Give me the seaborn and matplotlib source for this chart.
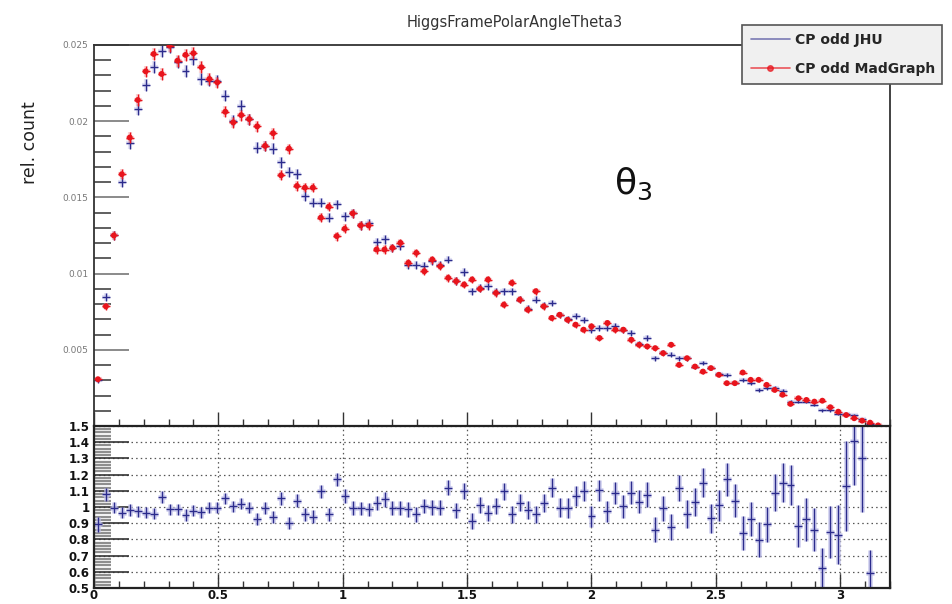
import numpy as np
import matplotlib
matplotlib.use("Agg")
import matplotlib.pyplot as plt
from matplotlib.lines import Line2D
from matplotlib.ticker import MultipleLocator
import seaborn as sns

# ---------------- data ----------------
bin_lo = 0.0
bin_hi = 3.2
n_bins = 100

jhu = [0.0030, 0.00847, 0.0125, 0.0160, 0.01855, 0.0208, 0.02237, 0.02354, 0.02463, 0.02485,
       0.0239, 0.02331, 0.02408, 0.02277, 0.02266, 0.02266, 0.02167, 0.02003, 0.02101, 0.02014,
       0.01827, 0.01838, 0.0182, 0.01729, 0.01667, 0.01652, 0.01509, 0.01465, 0.01465, 0.01367,
       0.01454, 0.01377, 0.01395, 0.01316, 0.01329, 0.01206, 0.01224, 0.01169, 0.0118, 0.01059,
       0.01059, 0.01048, 0.01081, 0.01059, 0.01092, 0.0095, 0.01009, 0.00884, 0.00905, 0.00917,
       0.0088, 0.00884, 0.00884, 0.0083, 0.0077, 0.00829, 0.0079, 0.00807, 0.0073, 0.0070,
       0.00719, 0.00697, 0.00632, 0.00643, 0.00643, 0.00653, 0.00632, 0.0061, 0.0054, 0.00577,
       0.00445, 0.0048, 0.00467, 0.00445, 0.00445, 0.0039, 0.00412, 0.0038, 0.0034, 0.00336,
       0.0028, 0.00303, 0.00281, 0.00237, 0.00248, 0.0025, 0.0023, 0.0016, 0.0016, 0.00158,
       0.0014, 0.00104, 0.00104, 0.00078, 0.00081, 0.00072, 0.00046, 0.00013, 0.00003]

madgraph = [0.00307, 0.00785, 0.0125, 0.01652, 0.01893, 0.02139, 0.02327, 0.02441, 0.0231, 0.02496,
            0.02397, 0.02435, 0.02446, 0.02354, 0.02277, 0.02255, 0.02062, 0.01992, 0.0204, 0.02014,
            0.01966, 0.01838, 0.01921, 0.01645, 0.0182, 0.01575, 0.01564, 0.01564, 0.01367, 0.01439,
            0.01246, 0.01294, 0.01395, 0.01316, 0.01316, 0.01158, 0.01158, 0.01169, 0.01202, 0.01071,
            0.01136, 0.01015, 0.01092, 0.01048, 0.00972, 0.0095, 0.00928, 0.00961, 0.009, 0.00961,
            0.00873, 0.00796, 0.00939, 0.00829, 0.00763, 0.00884, 0.00785, 0.00709, 0.0073, 0.00697,
            0.00665, 0.00632, 0.00653, 0.00577, 0.00676, 0.00632, 0.00632, 0.00566, 0.00533, 0.00522,
            0.00511, 0.00478, 0.00533, 0.00401, 0.00445, 0.0039, 0.00357, 0.0038, 0.00336, 0.00281,
            0.00281, 0.00351, 0.00303, 0.00303, 0.0027, 0.00237, 0.00205, 0.00145, 0.00182, 0.00171,
            0.0016, 0.00166, 0.00123, 0.00094, 0.00072, 0.00051, 0.00035, 0.00022, 0.00004]

count_err = [0.00015, 0.00024, 0.00029, 0.00033, 0.00035, 0.00037, 0.00038, 0.00039, 0.0004, 0.0004,
             0.0004, 0.0004, 0.0004, 0.00039, 0.00038, 0.00038, 0.00037, 0.00036, 0.00036, 0.00036,
             0.00035, 0.00035, 0.00035, 0.00034, 0.00033, 0.00032, 0.00031, 0.00031, 0.0003, 0.0003,
             0.0003, 0.0003, 0.00029, 0.00029, 0.00029, 0.00028, 0.00028, 0.00027, 0.00027, 0.00026,
             0.00026, 0.00026, 0.00026, 0.00026, 0.00025, 0.00025, 0.00025, 0.00024, 0.00024, 0.00024,
             0.00024, 0.00023, 0.00023, 0.00023, 0.00022, 0.00022, 0.00022, 0.00021, 0.00021, 0.00021,
             0.0002, 0.0002, 0.0002, 0.0002, 0.0002, 0.0002, 0.0002, 0.00019, 0.00018, 0.00018,
             0.00017, 0.00017, 0.00017, 0.00016, 0.00016, 0.00015, 0.00015, 0.00015, 0.00014, 0.00014,
             0.00013, 0.00013, 0.00013, 0.00012, 0.00012, 0.00012, 0.00011, 0.0001, 0.0001, 0.0001,
             0.0001, 0.00009, 0.00009, 0.00008, 0.00007, 0.00006, 0.00005, 0.00004, 0.00002]

ratio = [0.892, 1.078, 0.995, 0.964, 0.981, 0.974, 0.964, 0.958, 1.061, 0.985,
         0.985, 0.95, 0.978, 0.968, 0.995, 0.995, 1.053, 1.005, 1.02, 0.995,
         0.923, 0.995, 0.937, 1.053, 0.902, 1.04, 0.956, 0.94, 1.098, 0.954,
         1.17, 1.067, 0.995, 0.991, 0.985, 1.026, 1.047, 0.995, 0.995, 0.985,
         0.954, 1.005, 0.999, 0.995, 1.118, 0.979, 1.098, 0.912, 1.011, 0.964,
         1.005, 1.098, 0.954, 1.026, 0.979, 0.954, 1.026, 1.118, 0.995, 0.995,
         1.067, 1.098, 0.943, 1.102, 0.974, 1.088, 1.005, 1.088, 1.032, 1.077,
         0.861, 0.991, 0.875, 1.118, 0.958, 1.032, 1.15, 0.929, 1.011, 1.17,
         1.04, 0.84, 0.923, 0.799, 0.892, 1.088, 1.15, 1.135, 0.882, 0.923,
         0.861, 0.624, 0.847, 0.83, 1.129, 1.407, 1.30, 0.593]

ratio_err = [0.045, 0.04, 0.035, 0.035, 0.035, 0.035, 0.035, 0.035, 0.035, 0.035,
             0.035, 0.035, 0.035, 0.035, 0.035, 0.035, 0.035, 0.035, 0.035, 0.035,
             0.037, 0.037, 0.037, 0.038, 0.038, 0.04, 0.04, 0.04, 0.04, 0.04,
             0.042, 0.042, 0.042, 0.042, 0.042, 0.044, 0.044, 0.044, 0.044, 0.045,
             0.045, 0.045, 0.046, 0.046, 0.047, 0.047, 0.048, 0.048, 0.05, 0.05,
             0.05, 0.052, 0.052, 0.053, 0.055, 0.055, 0.056, 0.058, 0.058, 0.06,
             0.06, 0.062, 0.064, 0.065, 0.066, 0.068, 0.07, 0.07, 0.072, 0.075,
             0.075, 0.078, 0.08, 0.082, 0.085, 0.088, 0.09, 0.09, 0.095, 0.1,
             0.1, 0.105, 0.105, 0.11, 0.11, 0.115, 0.12, 0.125, 0.13, 0.13,
             0.135, 0.12, 0.16, 0.18, 0.28, 0.27, 0.33, 0.14]

title = "HiggsFramePolarAngleTheta3"
label_jhu = "CP odd JHU"
label_mad = "CP odd MadGraph"
ylabel = "rel. count"
top_yticks = [0.005, 0.01, 0.015, 0.02, 0.025]
top_yticklabels = ["0.005", "0.01", "0.015", "0.02", "0.025"]
ratio_yticks = [0.5, 0.6, 0.7, 0.8, 0.9, 1.0, 1.1, 1.2, 1.3, 1.4, 1.5]
ratio_yticklabels = ["0.5", "0.6", "0.7", "0.8", "0.9", "1", "1.1", "1.2", "1.3", "1.4", "1.5"]
xticks = [0, 0.5, 1, 1.5, 2, 2.5, 3]
xticklabels = ["0", "0.5", "1", "1.5", "2", "2.5", "3"]

# ---------------- style ----------------
sns.set_style("white")
plt.rcParams["font.family"] = ["DejaVu Sans"]

BLUE = "#2b2b8c"
BLUE_LIGHT = "#c4c4ec"
RED = "#e8141c"
RED_LIGHT = "#f4a0a4"

edges = np.linspace(bin_lo, bin_hi, n_bins + 1)
centers_all = 0.5 * (edges[:-1] + edges[1:])
half_w = 0.5 * (edges[1] - edges[0])

x_top = centers_all[:len(jhu)]
x_rat = centers_all[:len(ratio)]

fig = plt.figure(figsize=(9.53, 6.04), dpi=100)
ax1 = fig.add_axes([0.0986, 0.2947, 0.8353, 0.6308])
ax2 = fig.add_axes([0.0986, 0.0265, 0.8353, 0.2682])

# ---------------- top panel ----------------
ax1.errorbar(x_top, jhu, yerr=count_err, xerr=half_w, fmt="none",
             ecolor=BLUE_LIGHT, elinewidth=3.0, capsize=0, zorder=1, alpha=0.45)
ax1.errorbar(x_top, madgraph, yerr=count_err, xerr=half_w, fmt="none",
             ecolor=RED_LIGHT, elinewidth=3.0, capsize=0, zorder=1, alpha=0.45)
ax1.errorbar(x_top, jhu, yerr=count_err, xerr=half_w, fmt="none",
             ecolor=BLUE, elinewidth=1.0, capsize=0, zorder=2)
ax1.errorbar(x_top, madgraph, yerr=count_err, xerr=half_w, fmt="none",
             ecolor=RED, elinewidth=1.0, capsize=0, zorder=3)
sns.scatterplot(x=x_top, y=madgraph, color=RED, s=18, edgecolor="none",
                ax=ax1, zorder=4, legend=False)

ax1.set_xlim(bin_lo, bin_hi)
ax1.set_ylim(0, 0.025)
ax1.set_yticks(top_yticks)
ax1.set_yticklabels(top_yticklabels)
ax1.yaxis.set_minor_locator(MultipleLocator(0.001))
ax1.set_xticks(xticks)
ax1.set_xticklabels([])
ax1.xaxis.set_minor_locator(MultipleLocator(0.1))
ax1.tick_params(which="both", left=True, bottom=True, right=False, top=False)
ax1.tick_params(axis="y", which="major", direction="in", length=25, width=1.2,
                color="#777777", labelsize=6.5, labelcolor="#777777", pad=4)
ax1.tick_params(axis="y", which="minor", direction="in", length=12, width=1.2,
                color="#444444")
ax1.tick_params(axis="x", which="major", direction="in", length=10, width=1.0,
                color="#333333")
ax1.tick_params(axis="x", which="minor", direction="in", length=5, width=1.0,
                color="#333333")
for s in ax1.spines.values():
    s.set_color("#333333")
    s.set_linewidth(1.3)
ax1.set_xlabel("")
ax1.set_ylabel("")

ax1.text(0.677, 0.635, r"$\mathregular{\theta_3}$", transform=ax1.transAxes,
         fontsize=26, color="#111111", ha="center", va="center")

# ---------------- ratio panel ----------------
ax2.errorbar(x_rat, ratio, yerr=ratio_err, xerr=half_w, fmt="none",
             ecolor=BLUE_LIGHT, elinewidth=3.5, capsize=0, zorder=1, alpha=0.7)
ax2.errorbar(x_rat, ratio, yerr=ratio_err, xerr=half_w, fmt="none",
             ecolor=BLUE, elinewidth=1.0, capsize=0, zorder=2)

ax2.set_xlim(bin_lo, bin_hi)
ax2.set_ylim(0.5, 1.5)
ax2.set_yticks(ratio_yticks)
ax2.set_yticklabels(ratio_yticklabels)
ax2.yaxis.set_minor_locator(MultipleLocator(0.02))
ax2.set_xticks(xticks)
ax2.set_xticklabels(xticklabels)
ax2.xaxis.set_minor_locator(MultipleLocator(0.1))
ax2.grid(True, which="major", linestyle=(0, (1.2, 2.5)), color="#555555", linewidth=0.9)
ax2.set_axisbelow(True)
ax2.tick_params(which="both", left=True, bottom=True, right=False, top=False)
ax2.tick_params(axis="y", which="major", direction="in", length=25, width=1.2,
                color="#333333", labelsize=8.5, labelcolor="#111111", pad=3)
ax2.tick_params(axis="y", which="minor", direction="in", length=12, width=1.6,
                color="#8f8f8f")
ax2.tick_params(axis="x", which="major", direction="in", length=10, width=1.0,
                color="#333333", labelsize=8.5, labelcolor="#111111", pad=1)
ax2.tick_params(axis="x", which="minor", direction="in", length=5, width=1.0,
                color="#333333")
for lab in ax2.get_xticklabels() + ax2.get_yticklabels():
    lab.set_fontweight("bold")
for s in ax2.spines.values():
    s.set_color("#222222")
    s.set_linewidth(1.6)
ax2.set_xlabel("")
ax2.set_ylabel("")

# ---------------- texts ----------------
fig.text(0.540, 0.963, title, ha="center", va="center", fontsize=10.5, color="#333333")
fig.text(0.032, 1 - 143 / 604, ylabel, rotation=90, ha="center", va="center",
         fontsize=12.5, color="#222222")

handles = [Line2D([], [], color=BLUE, lw=1.2, alpha=0.6),
           Line2D([], [], color=RED, lw=1.2, alpha=0.7, marker="o", markersize=4,
                  markerfacecolor=RED, markeredgecolor=RED)]
leg = fig.legend(handles, [label_jhu, label_mad], loc="upper left",
                 bbox_to_anchor=(0.779, 0.856, 0.209, 0.1027), mode="expand",
                 prop={"weight": "bold", "size": 10},
                 handlelength=2.8, handletextpad=0.4, labelspacing=1.05,
                 borderpad=0.6, borderaxespad=0,
                 fancybox=False, framealpha=1.0)
leg.get_frame().set_facecolor("#f0f0f0")
leg.get_frame().set_edgecolor("#555555")
leg.get_frame().set_linewidth(1.2)

fig.savefig("out.png", dpi=100)
